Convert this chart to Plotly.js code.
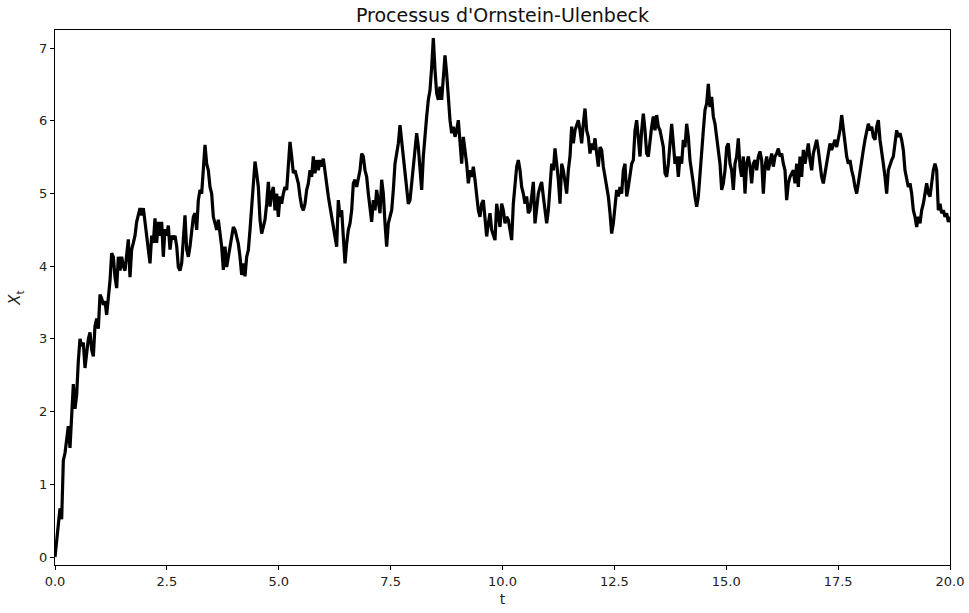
<!DOCTYPE html>
<html>
<head>
<meta charset="utf-8">
<script src="https://cdn.plot.ly/plotly-3.0.1.min.js"></script>
<style>html,body{margin:0;padding:0;background:#fff;}#chart{width:969px;height:613px;}</style>
</head>
<body>
<div id="chart"></div>
<script>
// Time grid: uniform sampling from 0 to 20 (538 samples)
const tStart = 0;
const tEnd = 20;

// X_t values, in order of time
const seg1 = [0,0.2,0.43,0.67,0.52,1.33,1.43,1.66,1.8,1.5,2.0,2.38,2.04,2.23,2.7,3.0,2.9,2.95,2.6,2.8,
  3.0,3.09,2.85,2.76,3.18,3.28,3.14,3.61,3.56,3.47,3.52,3.33,3.56,3.8,4.18,4.13,3.85,3.7,4.13,3.94,
  4.13,4.0,3.94,4.13,4.37,3.85,4.23,4.32,4.42,4.61,4.7,4.8,4.7,4.8,4.61,4.42,4.32,4.04,4.42,4.32,
  4.66,4.32,4.61,4.42,4.61,4.13,4.51,4.42,4.56,4.23,4.42,4.37,4.42,4.28,3.99,3.94,4.04,4.32,4.7,4.23,4.13];
const seg2 = [4.27,4.5,4.68,4.73,4.5,4.91,5.05,5.0,5.41,5.67,5.41,5.32,5.09,5.0,4.68,4.59,4.5,4.64,4.45,4.27,
  3.95,4.27,3.99,4.13,4.31,4.41,4.54,4.5,4.41,4.31,4.13,3.88,4.04,3.86,4.13,4.22,4.5,4.86,5.09,5.44,
  5.28,5.09,4.64,4.45,4.54,4.64,4.86,5.16,4.82,5.0,5.09,4.77,5.0,4.68,4.96,4.86,5.0,5.09,5.05,5.41,
  5.71,5.51,5.28,5.32,5.23,5.14,4.96,4.82,4.77,4.86,5.05,5.14,5.32,5.23,5.51,5.28,5.46,5.32,5.46,5.37,
  5.48,5.28,5.09,4.96,4.82,4.68,4.54,4.36,4.27,4.91];
const seg3 = [4.68,4.77,4.31,4.04,4.31,4.5,4.59,4.77,5.14,5.19,5.09,5.23,5.32,5.55,5.51,5.32,5.23,5.0,4.77,4.61,
  4.91,4.77,5.05,4.86,4.73,5.19,5.0,4.59,4.27,4.59,4.68,4.77,5.05,5.41,5.55,5.69,5.94,5.74,5.51,5.32,
  5.09,4.86,4.91,5.19,5.37,5.6,5.83,5.64,5.32,5.05,5.51,5.87,6.06,6.29,6.42,6.74,7.14,6.7,6.38,6.29,
  6.47,6.29,6.56,6.9,6.65,6.29,6.01,5.83,5.92,5.78,5.87,6.01,5.69,5.41,5.78,5.6,5.41,5.14,5.32,5.23,
  5.37,5.19,4.96,4.77,4.68,4.86,4.91,4.68,4.41,4.59];
const seg4 = [4.73,4.5,4.41,4.36,4.86,4.68,4.54,4.86,4.77,4.59,4.68,4.64,4.5,4.36,4.86,5.19,5.37,5.46,5.32,5.09,
  5.0,4.86,4.96,4.73,4.77,4.96,5.16,4.59,4.86,5.0,5.09,5.16,4.96,4.77,4.59,4.77,5.19,5.41,5.32,5.62,
  5.41,5.19,4.86,5.41,5.32,5.14,5.0,5.32,5.51,5.92,5.69,5.87,5.96,6.01,5.87,5.69,5.96,6.17,5.87,5.78,
  5.55,5.69,5.6,5.76,5.55,5.37,5.64,5.6,5.37,5.23,5.09,4.96,4.73,4.45,4.59,4.86,5.05,4.96,5.09,5.0,
  5.32,5.41,4.96,5.09,5.23,5.41,5.46,5.87,6.01,5.78];
const seg5 = [5.51,5.87,6.1,5.87,5.55,5.51,5.74,5.92,6.06,5.87,6.08,5.92,5.87,5.74,5.64,5.28,5.23,5.41,5.64,5.96,
  5.69,5.41,5.51,5.23,5.51,5.41,5.74,5.64,5.96,5.78,5.46,5.32,5.14,4.96,4.82,4.96,5.32,5.55,5.87,6.15,
  6.24,6.51,6.19,6.33,6.06,5.96,5.78,5.6,5.41,5.05,5.14,5.32,5.64,5.69,5.41,5.32,5.05,5.41,5.51,5.76,
  5.37,5.23,5.51,5.0,5.41,5.51,5.37,5.14,5.41,5.46,5.32,5.51,5.58,5.46,5.0,5.37,5.51,5.32,5.46,5.55,
  5.37,5.51,5.55,5.62,5.51,5.55,5.41,5.32,4.91,5.14];
const seg6 = [5.23,5.28,5.32,5.14,5.41,5.09,5.51,5.23,5.6,5.41,5.55,5.69,5.46,5.32,5.55,5.64,5.74,5.6,5.41,5.23,
  5.14,5.28,5.37,5.51,5.69,5.6,5.69,5.74,5.64,5.78,5.87,6.08,5.87,5.69,5.51,5.41,5.46,5.32,5.23,5.09,
  5.0,5.14,5.32,5.46,5.6,5.74,5.83,5.96,5.87,5.92,5.78,5.74,5.92,6.01,5.74,5.6,5.41,5.23,5.0,5.32,
  5.41,5.46,5.51,5.69,5.87,5.78,5.83,5.74,5.6,5.32,5.19,5.09,5.14,5.0,4.77,4.68,4.54,4.68,4.59,4.77,
  4.86,5.0,5.14,5.0,4.96,5.14,5.32,5.41,5.32,4.77,4.86,4.73,4.77,4.68,4.73,4.61,4.68];

const xtValues = [].concat(seg1, seg2, seg3, seg4, seg5, seg6);
const n = xtValues.length;
const tValues = xtValues.map((_, i) => tStart + (tEnd - tStart) * i / (n - 1));

const titleText = "Processus d'Ornstein-Ulenbeck";
const xLabel = "t";
const yLabel = "<i>X</i><sub>t</sub>";
const xTicks = [0, 2.5, 5, 7.5, 10, 12.5, 15, 17.5, 20];
const xTickText = ["0.0","2.5","5.0","7.5","10.0","12.5","15.0","17.5","20.0"];
const yTicks = [0,1,2,3,4,5,6,7];

const font = "DejaVu Sans, sans-serif";

Plotly.newPlot('chart', [{
  x: tValues,
  y: xtValues,
  type: 'scatter',
  mode: 'lines',
  line: {color: '#000000', width: 3.2},
  hoverinfo: 'skip'
}], {
  width: 969, height: 613,
  margin: {l: 55, r: 19, t: 30, b: 48, pad: 0},
  paper_bgcolor: '#ffffff', plot_bgcolor: '#ffffff',
  showlegend: false,
  font: {family: font, size: 13, color: '#222'},
  title: {text: titleText, font: {family: font, size: 19, color: '#111'},
          x: 0.5, xref: 'paper', xanchor: 'center', y: 1 - 15/613, yref: 'container', yanchor: 'middle'},
  xaxis: {
    range: [0, 20], tickvals: xTicks, ticktext: xTickText,
    ticks: 'outside', ticklen: 4, tickwidth: 1, tickcolor: '#000',
    showline: true, linecolor: '#000', linewidth: 1, mirror: true,
    showgrid: false, zeroline: false,
    tickfont: {family: font, size: 13, color: '#222'},
    title: {text: xLabel, font: {family: font, size: 14, color: '#222'}, standoff: 6}
  },
  yaxis: {
    range: [-0.11, 7.25], tickvals: yTicks,
    ticks: 'outside', ticklen: 4, tickwidth: 1, tickcolor: '#000',
    showline: true, linecolor: '#000', linewidth: 1, mirror: true,
    showgrid: false, zeroline: false,
    tickfont: {family: font, size: 13, color: '#222'},
    title: {text: yLabel, font: {family: font, size: 15, color: '#222'}, standoff: 14}
  }
}, {staticPlot: true, displayModeBar: false});
</script>
</body>
</html>
